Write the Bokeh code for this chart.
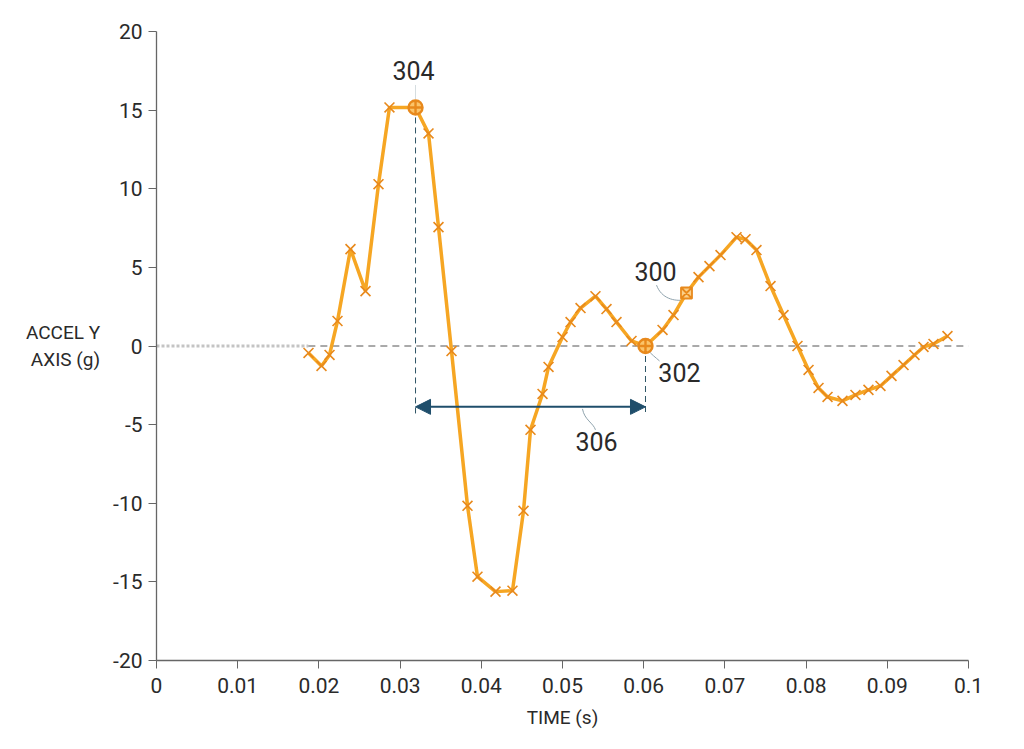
from bokeh.plotting import figure
from bokeh.models import Range1d, FixedTicker, Arrow, NormalHead, ColumnDataSource
from bokeh.embed import file_html
from bokeh.resources import INLINE
from bokeh.core.properties import value

# ---- data ----
time_s = [0.01872, 0.02032, 0.02131, 0.02229, 0.02389, 0.02574, 0.02734, 0.02869,
          0.03190, 0.03350, 0.03473, 0.03633, 0.03830, 0.03953, 0.04175, 0.04384,
          0.04520, 0.04606, 0.04754, 0.04828, 0.05000, 0.05099, 0.05222, 0.05406,
          0.05542, 0.05665, 0.05850, 0.06022, 0.06232, 0.06367, 0.06527, 0.06675,
          0.06810, 0.06946, 0.07143, 0.07254, 0.07389, 0.07562, 0.07722, 0.07894,
          0.08030, 0.08153, 0.08264, 0.08448, 0.08608, 0.08768, 0.08916, 0.09052,
          0.09200, 0.09335, 0.09446, 0.09569, 0.09741]
accel_g = [-0.44, -1.27, -0.57, 1.59, 6.16, 3.49, 10.29, 15.17,
           15.17, 13.52, 7.56, -0.32, -10.16, -14.67, -15.62, -15.56,
           -10.48, -5.33, -3.05, -1.33, 0.57, 1.52, 2.41, 3.17,
           2.35, 1.52, 0.32, 0.00, 1.02, 1.97, 3.37, 4.38,
           5.08, 5.78, 6.92, 6.79, 6.10, 3.81, 1.97, 0.00,
           -1.52, -2.67, -3.24, -3.49, -3.11, -2.79, -2.54, -1.90,
           -1.21, -0.57, -0.06, 0.13, 0.63]

peak_index = 8        # 304
crossing_index = 27   # 302
sample_index = 30     # 300

pre_trigger_t = [0.0, 0.0187]
pre_trigger_g = [0.0, 0.0]
zero_line_t = [0.0187, 0.1]
zero_line_g = [0.0, 0.0]

interval_g = -3.87
interval_drop_g = -4.45

x_ticks = [0.0, 0.01, 0.02, 0.03, 0.04, 0.05, 0.06, 0.07, 0.08, 0.09, 0.1]
x_tick_labels = ["0", "0.01", "0.02", "0.03", "0.04", "0.05", "0.06", "0.07", "0.08", "0.09", "0.1"]
y_ticks = [-20, -15, -10, -5, 0, 5, 10, 15, 20]
y_tick_labels = ["-20", "-15", "-10", "-5", "0", "5", "10", "15", "20"]

callout_text = ["304", "300", "302", "306"]
callout_t = [0.03165, 0.06145, 0.06440, 0.05419]
callout_g = [17.52, 4.76, -1.71, -6.10]

# leader lines (bezier): start, end, control 0, control 1
leader_x0 = [0.06158, 0.06047, 0.05246]
leader_y0 = [3.87, -0.25, -4.0]
leader_x1 = [0.0649, 0.06195, 0.05406]
leader_y1 = [2.92, -0.95, -5.33]
leader_cx0 = [0.0622, 0.0609, 0.0527]
leader_cy0 = [3.0, -0.5, -4.7]
leader_cx1 = [0.0638, 0.0615, 0.0538]
leader_cy1 = [2.85, -0.75, -4.9]
peak_leader_g = [16.6, 15.7]

FONT = "Roboto"
TEXT = "#2a2a2a"
ORANGE = "#F6A623"
ORANGE_DARK = "#E8891C"
NAVY = "#1f4e6b"

p = figure(width=1008, height=733, output_backend="svg", toolbar_location=None,
           x_range=Range1d(0, 0.1), y_range=Range1d(-20, 20),
           min_border_left=156, min_border_right=40, min_border_top=31, min_border_bottom=73)
p.outline_line_color = None
p.xgrid.grid_line_color = None
p.ygrid.grid_line_color = None
p.background_fill_color = "white"
p.border_fill_color = "white"

# axes
p.xaxis.ticker = FixedTicker(ticks=x_ticks)
p.xaxis.major_label_overrides = {t: l for t, l in zip(x_ticks, x_tick_labels)}
p.yaxis.ticker = FixedTicker(ticks=y_ticks)
p.yaxis.major_label_overrides = {t: l for t, l in zip(y_ticks, y_tick_labels)}
for ax in (p.xaxis, p.yaxis):
    ax.axis_line_color = "#666666"
    ax.axis_line_width = 1.3
    ax.major_tick_line_color = "#666666"
    ax.major_tick_in = 0
    ax.major_tick_out = 8
    ax.minor_tick_line_color = None
    ax.major_label_text_color = TEXT
    ax.major_label_text_font = FONT
    ax.axis_label_text_font = FONT
    ax.axis_label_text_font_style = "normal"
    ax.axis_label_text_color = TEXT
p.yaxis.major_label_text_font_size = "21px"
p.xaxis.major_label_text_font_size = "21px"
p.xaxis.axis_label = "TIME (s)"
p.xaxis.axis_label_text_font_size = "19px"
p.xaxis.axis_label_standoff = 10
p.xaxis.major_label_standoff = 9
p.yaxis.axis_label = "ACCEL Y\nAXIS (g)"
p.yaxis.axis_label_orientation = "horizontal"
p.yaxis.axis_label_text_font_size = "19px"
p.yaxis.axis_label_text_align = "center"
p.yaxis.axis_label_standoff = 10
p.yaxis.major_label_standoff = 6

# reference lines
p.line(pre_trigger_t, pre_trigger_g, line_color="#c4c4c4", line_width=3, line_dash="3 2")
p.line(zero_line_t, zero_line_g, line_color="#555555", line_width=1, line_dash="7 5")

# interval markers
p.segment(x0=[time_s[peak_index], time_s[crossing_index]],
          y0=[accel_g[peak_index], accel_g[crossing_index]],
          x1=[time_s[peak_index], time_s[crossing_index]],
          y1=[interval_drop_g, interval_drop_g],
          line_color="#2f5566", line_width=1, line_dash="6 4")
p.add_layout(Arrow(start=NormalHead(size=15, fill_color=NAVY, line_color=NAVY),
                   end=NormalHead(size=15, fill_color=NAVY, line_color=NAVY),
                   x_start=time_s[peak_index], y_start=interval_g,
                   x_end=time_s[crossing_index], y_end=interval_g,
                   line_color=NAVY, line_width=2))

# leaders
p.bezier(x0=leader_x0, y0=leader_y0, x1=leader_x1, y1=leader_y1,
         cx0=leader_cx0, cy0=leader_cy0, cx1=leader_cx1, cy1=leader_cy1,
         line_color="#8fa3ad", line_width=1)
p.line([time_s[peak_index]] * 2, peak_leader_g, line_color="#d5dde0", line_width=1)

# signal
p.line(time_s, accel_g, line_color=ORANGE, line_width=3.5)
special = {peak_index, crossing_index, sample_index}
xs = ColumnDataSource(dict(t=[t for i, t in enumerate(time_s) if i not in special],
                           g=[g for i, g in enumerate(accel_g) if i not in special]))
p.scatter("t", "g", source=xs, marker="x", size=14, line_color=ORANGE_DARK, line_width=1.6)
p.scatter([time_s[peak_index], time_s[crossing_index]],
          [accel_g[peak_index], accel_g[crossing_index]],
          marker="circle_cross", size=14, fill_color="#FBC46A", line_color=ORANGE_DARK, line_width=2.4)
p.scatter([time_s[sample_index]], [accel_g[sample_index]], marker="square_x", size=11,
          fill_color="#FBD08A", line_color=ORANGE_DARK, line_width=1.8)

# callout numbers
p.text(callout_t, callout_g, text=callout_text, text_font=value(FONT), text_font_size="25px",
       text_color=TEXT, text_align="center", text_baseline="middle")

open("out.html", "w").write(file_html(p, INLINE))
